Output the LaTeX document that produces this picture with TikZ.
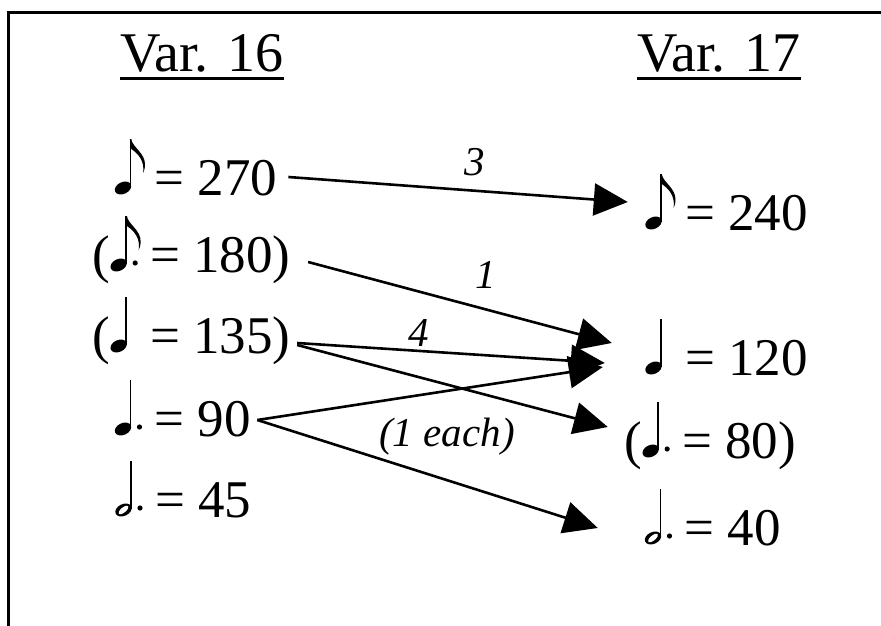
\documentclass[tikz,border=0pt]{standalone}
\usepackage{fontspec}
\setmainfont{Liberation Serif}
\usetikzlibrary{arrows.meta}

\newcommand{\nhd}{\fill[rotate around={25:(8.5,7)}] (8.5,7) ellipse [x radius=8.6pt, y radius=5.9pt];}
\newcommand{\nhol}{\nhd \fill[white, rotate around={40:(8.5,7)}] (8.5,7) ellipse [x radius=6.2pt, y radius=2.5pt];}
\newcommand{\nstem}{\fill (15.3,8) rectangle (16.7,56);}
\newcommand{\nflag}{\fill (15.3,56) -- (16.8,56) .. controls (17.5,48) and (31,42) .. (30.5,30) .. controls (30.3,26) and (29.5,24) .. (28.5,22) .. controls (29.5,28) and (29,38) .. (16.8,46) -- cycle;}
\newcommand{\ndot}{\fill (25,9) circle [radius=2.6pt];}
\newcommand{\notepic}[1]{\tikz[baseline=0pt,x=1pt,y=1pt,line width=0.4pt]{\useasboundingbox (0,0) rectangle (40,56); #1}}
\newcommand{\eighthnote}{\notepic{\nhd\nstem\nflag}}
\newcommand{\deighthnote}{\notepic{\nhd\nstem\nflag\ndot}}
\newcommand{\quarternote}{\notepic{\nhd\nstem}}
\newcommand{\dquarternote}{\notepic{\nhd\nstem\ndot}}
\newcommand{\dhalfnote}{\notepic{\nhol\nstem\ndot}}

\begin{document}
\begin{tikzpicture}[x=1pt,y=-1pt,
  tempo/.style={font=\fontsize{53}{60}\selectfont, inner sep=0pt, anchor=text},
  headtxt/.style={font=\fontsize{56}{64}\selectfont, inner sep=0pt, anchor=text},
  lbl/.style={font=\fontsize{41}{48}\selectfont\itshape, inner sep=0pt},
  arr/.style={line width=2.6pt, -{Triangle[length=34pt,width=32pt]}},
  heavy/.style={line width=3pt}]
\useasboundingbox (0,0) rectangle (881,626);
\draw[heavy] (881,13) -- (8,13) -- (8,626);

\node[headtxt] (h16) at (120,72) {Var. 16};
\node[headtxt] (h17) at (637,72) {Var. 17};
\draw[heavy] ([yshift=-7pt]h16.base west) -- ([yshift=-7pt]h16.base east);
\draw[heavy] ([yshift=-7pt]h17.base west) -- ([yshift=-7pt]h17.base east);

\node[tempo] (l1) at (114.5,195) {\eighthnote= 270};
\node[tempo] (l2) at (92.5,272) {(\deighthnote= 180)};
\node[tempo] (l3) at (92.5,353) {(\quarternote= 135)};
\node[tempo] (l4) at (114.5,436) {\dquarternote= 90};
\node[tempo] (l5) at (115,517) {\dhalfnote= 45};

\node[tempo] (r1) at (645,230) {\eighthnote= 240};
\node[tempo] (r2) at (645,375) {\quarternote= 120};
\node[tempo] (r3) at (624.5,458) {(\dquarternote= 80)};
\node[tempo] (r4) at (644.5,545) {\dhalfnote= 40};

\draw[arr] ([xshift=11pt,yshift=18pt]l1.base east) -- ([xshift=-17pt,yshift=28pt]r1.base west);
\draw[arr] ([xshift=17.5pt,yshift=10pt]l2.base east) -- ([xshift=-33pt,yshift=32pt]r2.base west);
\draw[arr] ([xshift=6.5pt,yshift=10pt]l3.base east) -- ([xshift=-40pt,yshift=12pt]r2.base west);
\draw[arr] ([xshift=6.5pt,yshift=8pt]l3.base east) -- ([xshift=-16.5pt,yshift=31pt]r3.base west);
\draw[arr] ([xshift=6.5pt,yshift=16pt]l4.base east) -- ([xshift=-42pt,yshift=8pt]r2.base west);
\draw[arr] ([xshift=6.5pt,yshift=16pt]l4.base east) -- ([xshift=-46.5pt,yshift=17pt]r4.base west);

\node[lbl] (n3) at (475,162) {3};
\node[lbl] (n1) at (486,275) {1};
\node[lbl] (n4) at (419,333) {4};
\node[lbl] (each) at (447,437) {(1 each)};
\end{tikzpicture}
\end{document}
